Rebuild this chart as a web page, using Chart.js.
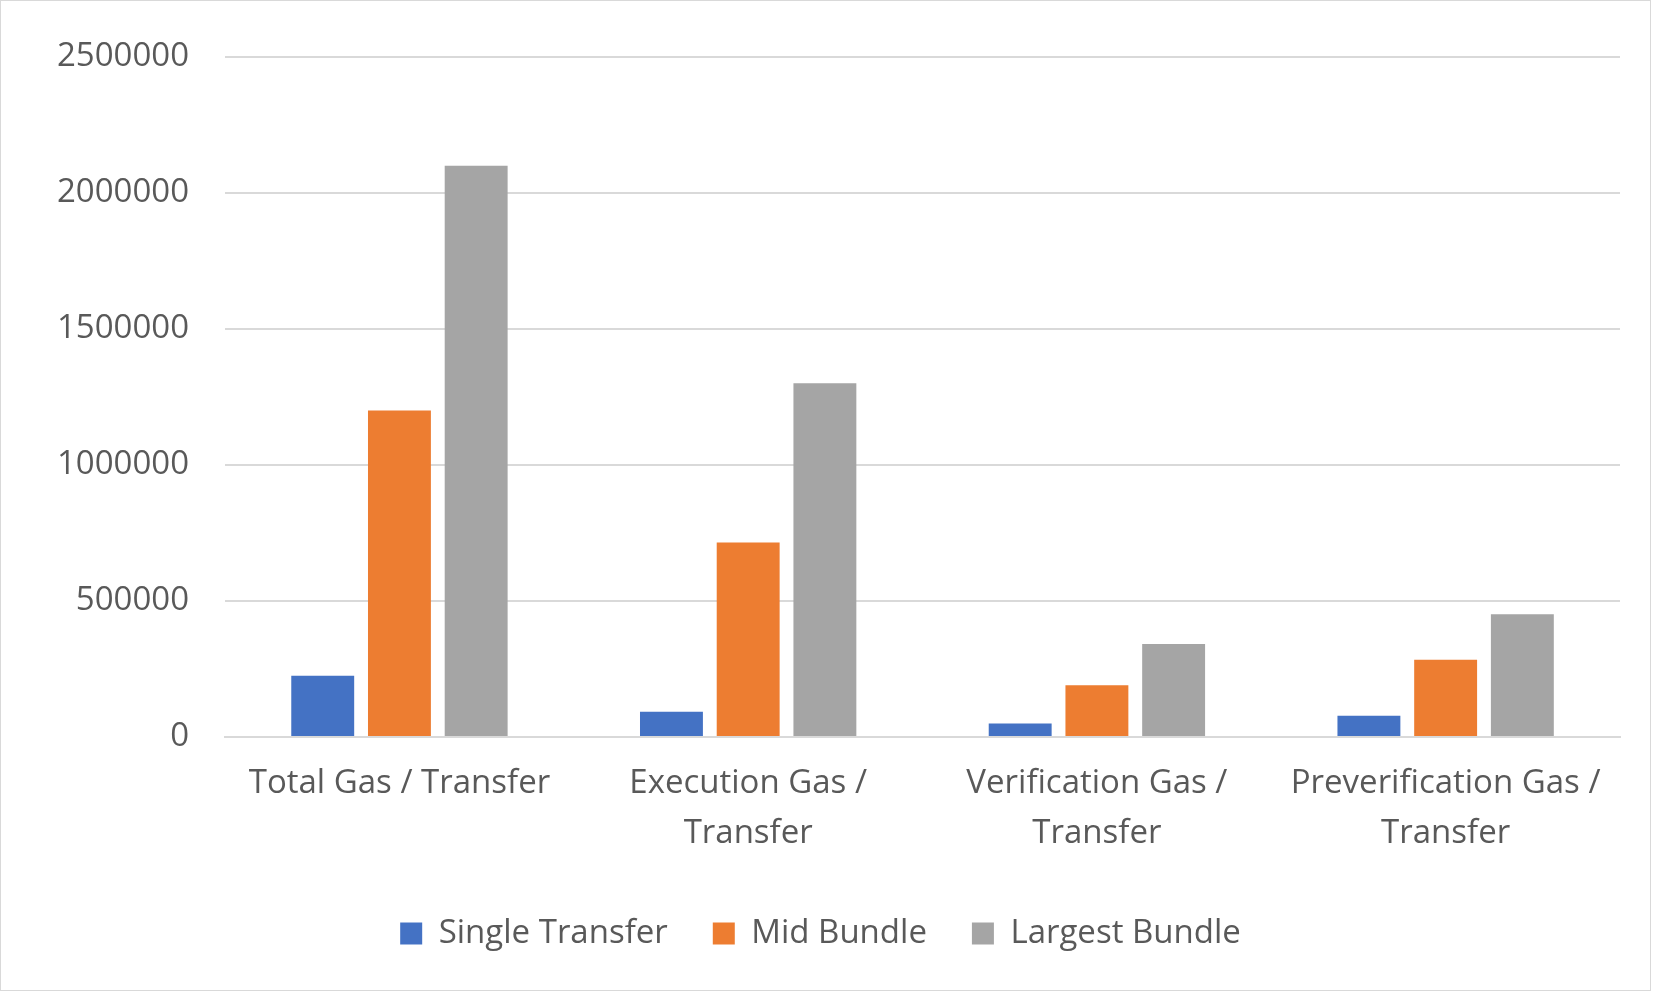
<!DOCTYPE html>
<html>
<head>
<meta charset="utf-8">
<script src="https://cdn.jsdelivr.net/npm/chart.js@4"></script>
<style>
  html, body { margin: 0; padding: 0; background: #fff; }
  #wrap { width: 1651px; height: 991px; border: 1px solid #d9d9d9; box-sizing: border-box; position: relative; }
  canvas { display: block; }
</style>
</head>
<body>
<div id="wrap"><canvas id="chart"></canvas></div>
<script>
// categories and series
const categories = [
    ['Total Gas / Transfer'],
    ['Execution Gas /', 'Transfer'],
    ['Verification Gas /', 'Transfer'],
    ['Preverification Gas /', 'Transfer']
];
const singleTransfer = [225000, 93000, 50000, 78000];
const midBundle = [1200000, 715000, 190000, 284000];
const largestBundle = [2100000, 1300000, 342000, 451000];

const textColor = '#595959';
const fontFamily = "'Open Sans', 'Noto Sans', sans-serif";

new Chart(document.getElementById('chart'), {
    type: 'bar',
    data: {
        labels: categories,
        datasets: [
            { label: 'Single Transfer', data: singleTransfer, backgroundColor: '#4472C4' },
            { label: 'Mid Bundle', data: midBundle, backgroundColor: '#ED7D31' },
            { label: 'Largest Bundle', data: largestBundle, backgroundColor: '#A5A5A5' }
        ]
    },
    options: {
        responsive: true,
        maintainAspectRatio: false,
        animation: false,
        layout: { padding: { left: 20, right: 30, top: 30, bottom: 30 } },
        datasets: { bar: { categoryPercentage: 0.66, barPercentage: 0.82 } },
        scales: {
            x: {
                grid: { display: false },
                border: { color: '#d9d9d9', width: 2 },
                ticks: { color: textColor, font: { family: fontFamily, size: 33, lineHeight: 1.5 }, maxRotation: 0, padding: 14 }
            },
            y: {
                min: 0,
                max: 2500000,
                border: { display: false },
                grid: { color: '#d9d9d9', lineWidth: 2, drawTicks: false },
                ticks: {
                    stepSize: 500000, color: textColor, font: { family: fontFamily, size: 33 }, padding: 36,
                    callback: v => String(v)
                }
            }
        },
        plugins: {
            tooltip: { enabled: false },
            legend: {
                position: 'bottom',
                labels: { color: textColor, font: { family: fontFamily, size: 33 }, boxWidth: 22, boxHeight: 22, padding: 45 }
            }
        }
    }
});
</script>
</body>
</html>
